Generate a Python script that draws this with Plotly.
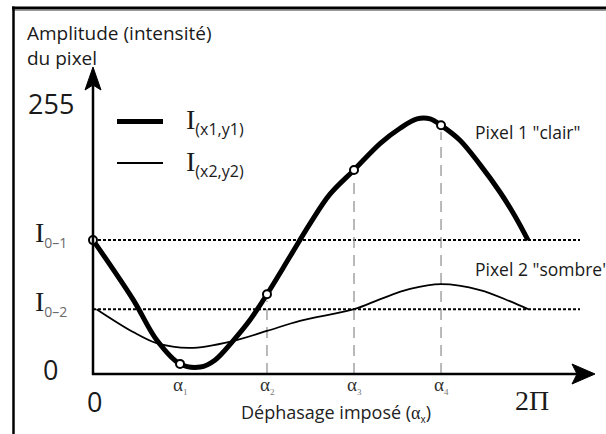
import math
import plotly.graph_objects as go

# ---------------- data ----------------
# Pixel 1 ("clair"): intensity vs imposed phase shift (radians)
phase_p1 = [0.00, 0.58, 0.92, 1.257, 1.55, 1.76, 2.02, 2.27, 2.513, 2.85, 3.13,
            3.42, 3.770, 4.15, 4.43, 4.68, 4.87, 5.027, 5.30, 5.59, 5.88, 6.10, 6.283]
intensity_p1 = [126, 70, 32, 9.5, 6.5, 13, 31, 51, 75, 111, 141,
                169, 192, 217, 231, 240, 240, 234, 220, 197, 171, 148, 126]

# Pixel 2 ("sombre")
phase_p2 = [0.05, 0.58, 0.92, 1.40, 2.02, 2.513, 2.99, 3.770, 4.15, 4.58, 5.027,
            5.59, 6.02, 6.283]
intensity_p2 = [61, 39.5, 29, 24.5, 31, 40.5, 50, 61, 70.5, 80, 84.5,
                79, 68.5, 61]

# imposed phase shifts alpha_1..alpha_4
alpha_phases = [1.257, 2.513, 3.770, 5.027]
alpha_names = ["1", "2", "3", "4"]

# mean intensities of the two pixels
I0_1 = 126
I0_2 = 61
y_top_label = 255

series_names = ["(x1,y1)", "(x2,y2)"]
series_widths = [5, 1.8]
pixel_names = ['Pixel 1 "clair"', 'Pixel 2 "sombre"']

# ---------------- layout geometry ----------------
W, H = 606, 434
X0_PX, Y0_PX = 93, 374                  # origin of the axes, in pixels
PX_PER_RAD = 435 / (2 * math.pi)
PX_PER_UNIT = 271 / 255


def dx(px):
    return (px - X0_PX) / PX_PER_RAD


def dy(py):
    return (Y0_PX - py) / PX_PER_UNIT


SANS = "Open Sans"
SERIF = "Liberation Serif"
INK = "#1a1a1a"

fig = go.Figure()

# horizontal mean-intensity reference lines
x_end_ref = dx(580)
for lvl in (I0_1, I0_2):
    fig.add_trace(go.Scatter(
        x=[0, x_end_ref], y=[lvl, lvl], mode="lines",
        line=dict(color="black", width=2, dash="3px,2px"),
        showlegend=False, hoverinfo="skip"))

# vertical dashed guides from the axis up to each sample (except alpha_1)
sample_phases = [0.0] + alpha_phases
sample_values = [intensity_p1[phase_p1.index(p)] for p in sample_phases]
gx, gy = [], []
for p, v in zip(sample_phases[2:], sample_values[2:]):
    gx += [p, p, None]
    gy += [0, v - 6, None]
fig.add_trace(go.Scatter(
    x=gx, y=gy, mode="lines",
    line=dict(color="#8c8c8c", width=1.2, dash="11px,7px"),
    showlegend=False, hoverinfo="skip"))

# the two intensity curves
fig.add_trace(go.Scatter(
    x=phase_p1, y=intensity_p1, mode="lines", line_shape="spline",
    line=dict(color="black", width=series_widths[0]),
    name="I" + series_names[0], showlegend=False))
fig.add_trace(go.Scatter(
    x=phase_p2, y=intensity_p2, mode="lines", line_shape="spline",
    line=dict(color="black", width=series_widths[1]),
    name="I" + series_names[1], showlegend=False))

# sampled points on pixel 1
fig.add_trace(go.Scatter(
    x=sample_phases, y=sample_values, mode="markers",
    marker=dict(symbol="circle", size=8, color="white",
                line=dict(color="black", width=2)),
    cliponaxis=False, showlegend=False, hoverinfo="skip"))

shapes = []
# axes
shapes.append(dict(type="line", xref="x", yref="y", x0=dx(92), y0=0, x1=dx(578), y1=0,
                   line=dict(color="black", width=2.5)))
shapes.append(dict(type="line", xref="x", yref="y", x0=0, y0=dy(375), x1=0, y1=dy(84),
                   line=dict(color="black", width=2.5)))
# arrow heads
ax_tip, ax_back, ax_notch, ax_half = dx(595), dx(572), dx(577), 10 / PX_PER_UNIT
shapes.append(dict(type="path", xref="x", yref="y",
                   path=f"M{ax_tip},0 L{ax_back},{ax_half} L{ax_notch},0 L{ax_back},{-ax_half} Z",
                   fillcolor="black", line=dict(color="black", width=1)))
ay_tip, ay_back, ay_notch, ay_half = dy(67), dy(90), dy(85), 8 / PX_PER_RAD
shapes.append(dict(type="path", xref="x", yref="y",
                   path=f"M0,{ay_tip} L{ay_half},{ay_back} L0,{ay_notch} L{-ay_half},{ay_back} Z",
                   fillcolor="black", line=dict(color="black", width=1)))
# frame lines (top and left)
shapes.append(dict(type="line", xref="paper", yref="paper", x0=12 / W, x1=1,
                   y0=1 - 10.5 / H, y1=1 - 10.5 / H, line=dict(color="#9a9a9a", width=1)))
shapes.append(dict(type="line", xref="paper", yref="paper", x0=12 / W, x1=1,
                   y0=1 - 8 / H, y1=1 - 8 / H, line=dict(color="black", width=3)))
shapes.append(dict(type="line", xref="paper", yref="paper", x0=13.5 / W, x1=13.5 / W,
                   y0=0, y1=1 - 6.5 / H, line=dict(color="black", width=2.5)))

ann = []


def txt(text, x, y, size, family=SANS, xref="x", yref="y", xanchor="center",
        yanchor="middle", xshift=0, yshift=0, color=INK, align="center"):
    ann.append(dict(text=text, x=x, y=y, xref=xref, yref=yref, showarrow=False,
                    xanchor=xanchor, yanchor=yanchor, xshift=xshift, yshift=yshift,
                    align=align, font=dict(family=family, size=size, color=color)))


# legend: sample strokes and labels
legend_rows_px = [121.5, 163]
for row, name, lw in zip(legend_rows_px, series_names, series_widths):
    shapes.append(dict(type="line", xref="paper", yref="paper",
                       x0=117 / W, x1=163 / W, y0=1 - row / H, y1=1 - row / H,
                       line=dict(color="black", width=lw)))
    txt(f"I<sub><span style='font-family:Open Sans;font-size:16px'>{name}</span></sub>",
        184 / W, 1 - (row + 1) / H, 28, family=SERIF, xref="paper", yref="paper",
        xanchor="left")

txt("Amplitude (intensité)<br>du pixel", 25 / W, 1 - 18 / H, 19,
    xref="paper", yref="paper", xanchor="left", yanchor="top", align="left")
txt(str(y_top_label), 0, y_top_label, 27, xshift=-42, yshift=0)
txt("0", 0, 0, 27, xshift=-43, yshift=5)
txt("0", 0, 0, 27, xshift=1, yshift=-27)
txt("2Π", 2 * math.pi, 0, 28, family=SERIF, xshift=4, yshift=-26)

sub_style = "font-family:Open Sans;font-size:14px;color:#6a6a6a"
txt(f"I<sub><span style='{sub_style}'>0–1</span></sub>", 0, I0_1, 28, family=SERIF,
    xanchor="right", xshift=-24, yshift=6)
txt(f"I<sub><span style='{sub_style}'>0–2</span></sub>", 0, I0_2, 28, family=SERIF,
    xanchor="right", xshift=-24, yshift=6)

for p, n in zip(alpha_phases, alpha_names):
    txt(f"α<sub><span style='font-size:9px;color:#777'>{n}</span></sub>", p, 0, 19,
        family=SERIF, yshift=-11, color="#333")

txt("Déphasage imposé (<span style='font-family:Liberation Serif'>α</span>"
    "<sub><span style='font-size:10px'>x</span></sub>)",
    336 / W, 1 - 413 / H, 18, xref="paper", yref="paper", color="#222")
txt(pixel_names[0], 473 / W, 1 - 132 / H, 17.5, xref="paper", yref="paper", xanchor="left")
txt(pixel_names[1], 473 / W, 1 - 269 / H, 17.5, xref="paper", yref="paper", xanchor="left")

fig.update_layout(
    width=W, height=H, autosize=False,
    margin=dict(l=0, r=0, t=0, b=0, pad=0),
    paper_bgcolor="white", plot_bgcolor="white",
    xaxis=dict(range=[dx(0), dx(W)], visible=False, fixedrange=True),
    yaxis=dict(range=[dy(H), dy(0)], visible=False, fixedrange=True),
    shapes=shapes, annotations=ann,
    showlegend=False,
)

fig.write_html("out.html")
